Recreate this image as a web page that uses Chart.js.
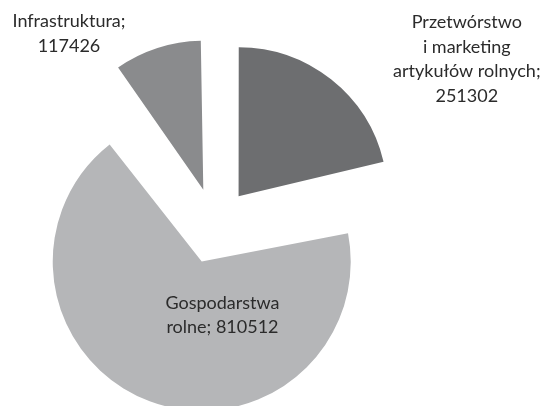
<!DOCTYPE html>
<html>
<head>
<meta charset="utf-8">
<script src="https://cdn.jsdelivr.net/npm/chart.js@4/dist/chart.umd.min.js"></script>
<style>
  html, body { margin: 0; padding: 0; background: #fff; }
  #wrap { width: 546px; height: 406px; }
</style>
</head>
<body>
<div id="wrap"><canvas id="pieChart" width="546" height="406"></canvas></div>
<script>
// Dane
const categories = ['Przetwórstwo i marketing artykułów rolnych', 'Gospodarstwa rolne', 'Infrastruktura'];
const values = [251302, 810512, 117426];
const labelLines = [
  ['Przetwórstwo', 'i marketing', 'artykułów rolnych;'],
  ['Gospodarstwa', 'rolne;'],
  ['Infrastruktura;']
];
const sliceColors = ['#6d6e70', '#b5b6b8', '#8a8b8d'];

// pozycje etykiet wzgledem srodka kola (w promieniach)
const labelAnchors = [[1.69, -1.12], [0.05, 0.60], [-0.98, -1.29]];

const pieRadius = 149;
const explode = 38; // wysuniecie wycinkow w px

// Chart.js przesuwa wycinek o offset/4 i powieksza promien o offset/4*fix,
// wiec promien kazdego wycinka korygujemy, zeby wszystkie byly rowne
const equalRadius = {
  id: 'equalRadius',
  beforeDatasetsDraw(chart) {
    chart.getDatasetMeta(0).data.forEach(arc => {
      const fix = 1 - Math.sin(Math.min(Math.PI, arc.circumference));
      arc.outerRadius = pieRadius - explode * fix;
    });
  }
};

// Etykiety danych rysowane recznie
const dataLabels = {
  id: 'dataLabels',
  afterDatasetsDraw(chart) {
    const ctx = chart.ctx;
    const cx = (chart.chartArea.left + chart.chartArea.right) / 2;
    const cy = (chart.chartArea.top + chart.chartArea.bottom) / 2;
    const r = pieRadius;
    ctx.save();
    ctx.font = '18px Lato';
    ctx.fillStyle = '#2b2b2b';
    ctx.textAlign = 'center';
    ctx.textBaseline = 'middle';
    const lh = 24.5;
    labelLines.forEach((lines, i) => {
      const all = lines.slice();
      if (i === 1) all[all.length - 1] += ' ' + values[i];
      else all.push(String(values[i]));
      const x = cx + labelAnchors[i][0] * r;
      const y = cy + labelAnchors[i][1] * r - (all.length - 1) * lh / 2;
      all.forEach((t, j) => ctx.fillText(t, x, y + j * lh));
    });
    ctx.restore();
  }
};

new Chart(document.getElementById('pieChart'), {
  type: 'pie',
  data: {
    labels: categories,
    datasets: [{
      data: values,
      backgroundColor: sliceColors,
      borderWidth: 0,
      offset: explode * 4,
      clip: false
    }]
  },
  options: {
    responsive: false,
    animation: false,
    events: [],
    radius: pieRadius,
    layout: { padding: { left: 0, right: 116, top: 46, bottom: 0 } },
    plugins: {
      legend: { display: false },
      tooltip: { enabled: false }
    }
  },
  plugins: [equalRadius, dataLabels]
});
</script>
</body>
</html>
